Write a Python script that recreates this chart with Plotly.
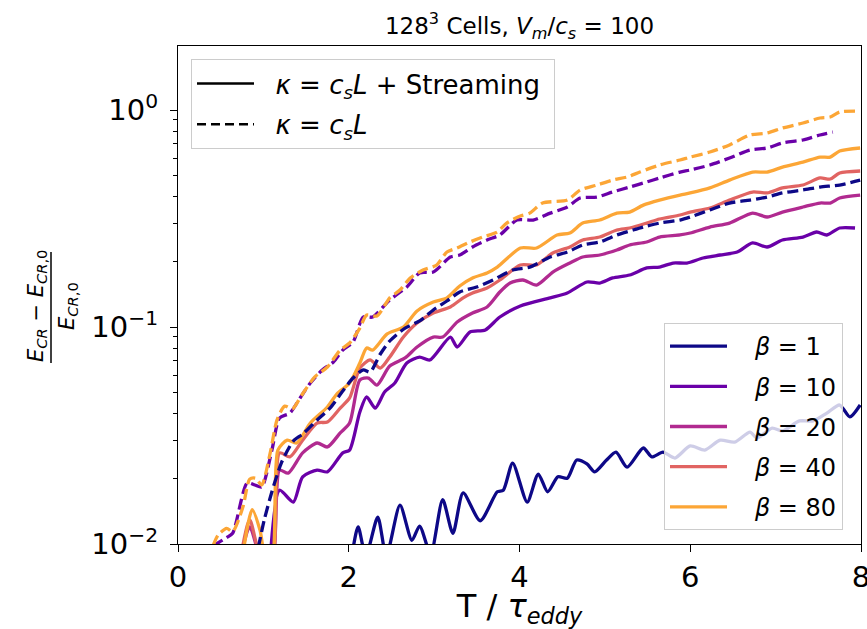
import plotly.graph_objects as go

# ---------------- data ----------------
BETAS = ["1", "10", "20", "40", "80"]
COLORS = {"1": "#0d0887", "10": "#6a00a8", "20": "#b12a90", "40": "#e16462", "80": "#fca636"}

# kappa = c_s L + Streaming (solid)
T_S1 = [2.04, 2.11, 2.20, 2.34, 2.44, 2.60, 2.74, 2.83, 2.96, 3.10, 3.22, 3.34, 3.54, 3.74, 3.81,
        3.92, 4.09, 4.22, 4.33, 4.45, 4.56, 4.67, 4.79, 4.88, 5.02, 5.13, 5.26, 5.45, 5.55, 5.68,
        5.82, 6.00, 6.17, 6.35, 6.52, 6.70, 6.78, 6.96, 7.08, 7.28, 7.44, 7.60, 7.75, 7.87, 7.99]
E_S1 = [0.0090, 0.0120, 0.0088, 0.0133, 0.0088, 0.0151, 0.0104, 0.0121, 0.0090, 0.0160, 0.0112,
        0.0172, 0.0128, 0.0174, 0.0177, 0.0236, 0.0156, 0.0210, 0.0174, 0.0204, 0.0201, 0.0244,
        0.0234, 0.0215, 0.0244, 0.0265, 0.0226, 0.0277, 0.0252, 0.0265, 0.0249, 0.0283, 0.0271,
        0.0301, 0.0295, 0.0328, 0.0308, 0.0342, 0.0332, 0.0369, 0.0369, 0.0401, 0.0437, 0.0385, 0.0437]

T_S10 = [1.08, 1.19, 1.35, 1.46, 1.63, 1.75, 1.93, 2.01, 2.13, 2.21, 2.31, 2.42, 2.54, 2.68, 2.83,
         2.95, 3.19, 3.27, 3.42, 3.60, 3.77, 4.01, 4.36, 4.56, 4.79, 4.94, 5.09, 5.29, 5.49, 5.64,
         5.80, 5.96, 6.15, 6.35, 6.55, 6.73, 6.90, 7.08, 7.32, 7.48, 7.60, 7.75, 7.93]
E_S10 = [0.0085, 0.0177, 0.0156, 0.0204, 0.0219, 0.0215, 0.0263, 0.0271, 0.0406, 0.0476, 0.0423,
         0.0502, 0.0552, 0.0682, 0.0727, 0.0705, 0.0899, 0.0809, 0.0948, 0.0969, 0.1112, 0.1250,
         0.1362, 0.1434, 0.1612, 0.1595, 0.1683, 0.1736, 0.1871, 0.1888, 0.1972, 0.1972, 0.2080,
         0.2147, 0.2216, 0.2439, 0.2337, 0.2518, 0.2598, 0.2741, 0.2655, 0.2859, 0.2859]

T_S20 = [0.73, 0.84, 0.98, 1.10, 1.19, 1.29, 1.46, 1.63, 1.75, 1.90, 2.01, 2.13, 2.23, 2.33, 2.48,
         2.66, 2.80, 2.99, 3.10, 3.27, 3.45, 3.62, 3.77, 3.89, 4.04, 4.20, 4.39, 4.59, 4.74, 4.94,
         5.14, 5.29, 5.49, 5.64, 5.88, 6.00, 6.23, 6.46, 6.73, 6.90, 7.08, 7.32, 7.52, 7.64, 7.75, 7.99]
E_S20 = [0.0085, 0.0120, 0.0085, 0.0085, 0.0219, 0.0212, 0.0263, 0.0292, 0.0280, 0.0325, 0.0361,
         0.0570, 0.0582, 0.0540, 0.0661, 0.0720, 0.0809, 0.0899, 0.0899, 0.1054, 0.1160, 0.1237,
         0.1450, 0.1595, 0.1647, 0.1561, 0.1792, 0.1972, 0.2102, 0.2147, 0.2263, 0.2387, 0.2465,
         0.2598, 0.2655, 0.2711, 0.2889, 0.3013, 0.3348, 0.3213, 0.3385, 0.3573, 0.3727, 0.3727,
         0.3930, 0.4054]

T_S40 = [0.73, 0.84, 0.98, 1.10, 1.19, 1.31, 1.46, 1.63, 1.75, 1.90, 2.01, 2.13, 2.25, 2.37, 2.48,
         2.64, 2.80, 2.99, 3.19, 3.34, 3.45, 3.62, 3.77, 4.01, 4.20, 4.39, 4.59, 4.74, 4.94, 5.14,
         5.29, 5.49, 5.64, 5.88, 6.00, 6.23, 6.46, 6.73, 6.90, 7.08, 7.32, 7.52, 7.64, 7.75, 7.99]
E_S40 = [0.0085, 0.0129, 0.0085, 0.0085, 0.0263, 0.0252, 0.0301, 0.0361, 0.0365, 0.0423, 0.0471,
         0.0647, 0.0705, 0.0647, 0.0727, 0.0899, 0.1043, 0.1160, 0.1237, 0.1362, 0.1434, 0.1512,
         0.1647, 0.1931, 0.1931, 0.2193, 0.2337, 0.2518, 0.2598, 0.2799, 0.2859, 0.3013, 0.3146,
         0.3282, 0.3385, 0.3535, 0.3845, 0.4189, 0.4149, 0.4377, 0.4511, 0.4861, 0.4808, 0.5126, 0.5236]

T_S80 = [0.75, 0.87, 0.96, 1.03, 1.10, 1.17, 1.28, 1.39, 1.55, 1.75, 1.86, 2.01, 2.13, 2.21, 2.28,
         2.45, 2.64, 2.80, 2.99, 3.15, 3.30, 3.45, 3.62, 3.74, 4.01, 4.20, 4.44, 4.59, 4.74, 4.94,
         5.14, 5.29, 5.45, 5.64, 5.88, 6.00, 6.23, 6.46, 6.73, 6.90, 7.08, 7.32, 7.52, 7.64, 7.75, 7.99]
E_S80 = [0.0085, 0.0144, 0.0116, 0.0085, 0.0085, 0.0271, 0.0301, 0.0292, 0.0361, 0.0428, 0.0491,
         0.0552, 0.0682, 0.0800, 0.0783, 0.0929, 0.1000, 0.1186, 0.1303, 0.1362, 0.1546, 0.1683,
         0.1775, 0.1888, 0.2312, 0.2312, 0.2655, 0.2711, 0.3013, 0.3112, 0.3348, 0.3385, 0.3646,
         0.3845, 0.4054, 0.4149, 0.4377, 0.4753, 0.5176, 0.5176, 0.5458, 0.5754, 0.6067, 0.6067,
         0.6469, 0.6683]

# kappa = c_s L (dashed)
T_D1 = [0.94, 1.01, 1.10, 1.21, 1.35, 1.46, 1.63, 1.78, 1.93, 2.05, 2.17, 2.25, 2.37, 2.48, 2.66,
        2.83, 2.99, 3.15, 3.30, 3.50, 3.69, 3.92, 4.12, 4.36, 4.56, 4.74, 4.94, 5.14, 5.33, 5.45,
        5.64, 5.88, 6.00, 6.23, 6.46, 6.70, 6.90, 7.08, 7.32, 7.52, 7.75, 7.99]
E_D1 = [0.0096, 0.0129, 0.0174, 0.0236, 0.0298, 0.0321, 0.0373, 0.0423, 0.0507, 0.0582, 0.0634,
        0.0620, 0.0751, 0.0862, 0.0989, 0.1066, 0.1198, 0.1318, 0.1450, 0.1529, 0.1647, 0.1831,
        0.1888, 0.2102, 0.2216, 0.2387, 0.2465, 0.2655, 0.2799, 0.2889, 0.3013, 0.3112, 0.3213,
        0.3461, 0.3727, 0.3845, 0.3972, 0.4149, 0.4279, 0.4417, 0.4511, 0.4753]

T_D10 = [0.41, 0.57, 0.64, 0.81, 0.90, 0.98, 1.10, 1.19, 1.31, 1.43, 1.55, 1.69, 1.82, 1.93, 2.05,
         2.17, 2.28, 2.48, 2.68, 2.83, 2.99, 3.19, 3.30, 3.45, 3.62, 3.77, 3.97, 4.16, 4.36, 4.56,
         4.71, 4.91, 5.09, 5.29, 5.49, 5.64, 5.88, 6.00, 6.23, 6.46, 6.70, 6.90, 7.08, 7.32, 7.52, 7.67]
E_D10 = [0.0098, 0.0107, 0.0112, 0.0191, 0.0187, 0.0183, 0.0271, 0.0381, 0.0401, 0.0471, 0.0552,
         0.0634, 0.0690, 0.0783, 0.0853, 0.1112, 0.1112, 0.1332, 0.1529, 0.1775, 0.1792, 0.2102,
         0.2147, 0.2337, 0.2518, 0.2655, 0.3112, 0.3112, 0.3348, 0.3573, 0.3930, 0.3972, 0.4189,
         0.4417, 0.4658, 0.4861, 0.5176, 0.5291, 0.5579, 0.6009, 0.6542, 0.6683, 0.7046, 0.7275,
         0.7671, 0.7917]

T_D80 = [0.41, 0.47, 0.57, 0.64, 0.76, 0.84, 0.91, 0.98, 1.08, 1.16, 1.25, 1.34, 1.45, 1.60, 1.75,
         1.90, 2.01, 2.13, 2.21, 2.33, 2.48, 2.60, 2.72, 2.87, 3.03, 3.15, 3.27, 3.42, 3.57, 3.74,
         3.85, 4.01, 4.12, 4.27, 4.56, 4.71, 4.91, 5.09, 5.26, 5.41, 5.64, 5.88, 6.00, 6.23, 6.46,
         6.70, 6.90, 7.08, 7.32, 7.52, 7.64, 7.75, 7.93]
E_D80 = [0.0098, 0.0110, 0.0118, 0.0114, 0.0148, 0.0199, 0.0201, 0.0187, 0.0263, 0.0373, 0.0432,
         0.0419, 0.0486, 0.0588, 0.0654, 0.0783, 0.0844, 0.0989, 0.1136, 0.1124, 0.1362, 0.1481,
         0.1683, 0.1831, 0.1931, 0.2216, 0.2312, 0.2465, 0.2598, 0.2741, 0.3013, 0.3248, 0.3348,
         0.3727, 0.3845, 0.4279, 0.4511, 0.4753, 0.4912, 0.5176, 0.5579, 0.5883, 0.6067, 0.6405,
         0.6898, 0.7671, 0.7834, 0.8262, 0.8712, 0.9187, 0.9284, 0.9790, 0.9890]

SOLID = {"1": (T_S1, E_S1), "10": (T_S10, E_S10), "20": (T_S20, E_S20),
         "40": (T_S40, E_S40), "80": (T_S80, E_S80)}
DASHED = {"1": (T_D1, E_D1), "10": (T_D10, E_D10), "80": (T_D80, E_D80)}

Y_TICKS = [0.01, 0.1, 1]
Y_TICKTEXT = ["10<sup>\u22122</sup>", "10<sup>\u22121</sup>", "10<sup>0</sup>"]
Y_MINOR = [0.02, 0.03, 0.04, 0.05, 0.06, 0.07, 0.08, 0.09,
           0.2, 0.3, 0.4, 0.5, 0.6, 0.7, 0.8, 0.9]
X_TICKS = [0, 2, 4, 6, 8]

FONT = "DejaVu Sans"
W, H = 867, 629
L, R, T, B = 178, 6, 46, 85
PW, PH = W - L - R, H - T - B
PAD1 = "\u00a0\u00a0"          # gap between line sample and text, legend 1
PAD2 = "\u00a0\u00a0\u00a0"    # gap between line sample and text, legend 2
TAIL = "\u00a0"


def px_x(p):
    return (p - L) / PW


def px_y(p):
    return (H - B - p) / PH


fig = go.Figure()

for b in BETAS:
    t, e = SOLID[b]
    fig.add_trace(go.Scatter(
        x=t, y=e, mode="lines", name=f"{PAD2}<i>\u03b2</i> = {b}",
        line=dict(color=COLORS[b], width=3.3, shape="spline", smoothing=0.7),
        legend="legend2", legendgroup=f"b{b}", showlegend=True))

for b in ["1", "10", "80"]:
    t, e = DASHED[b]
    fig.add_trace(go.Scatter(
        x=t, y=e, mode="lines", showlegend=False,
        line=dict(color=COLORS[b], width=3.3, dash="11px,5px", shape="spline", smoothing=0.7)))

fig.add_trace(go.Scatter(x=[None], y=[None], mode="lines",
                         name=PAD1 + "<i>\u03ba</i> = <i>c</i><sub><i>s</i></sub><i>L</i> + Streaming" + TAIL,
                         line=dict(color="black", width=2.5), legend="legend", legendgroup="k1"))
fig.add_trace(go.Scatter(x=[None], y=[None], mode="lines",
                         name=PAD1 + "<i>\u03ba</i> = <i>c</i><sub><i>s</i></sub><i>L</i>",
                         line=dict(color="black", width=2.5, dash="9px,5px"), legend="legend",
                         legendgroup="k2"))

axis_common = dict(showline=True, linecolor="black", linewidth=1.3, mirror=True,
                   ticks="outside", ticklen=7, tickwidth=1.3, tickcolor="black",
                   showgrid=False, zeroline=False, ticklabeloverflow="allow", automargin=False,
                   tickfont=dict(family=FONT, size=29, color="black"))

fig.update_layout(
    width=W, height=H,
    margin=dict(l=L, r=R, t=T, b=B, autoexpand=False),
    paper_bgcolor="white", plot_bgcolor="white",
    font=dict(family=FONT, color="black"),
    title=dict(text="128<sup>3</sup> Cells, <i>V</i><sub><i>m</i></sub>/<i>c</i><sub><i>s</i></sub> = 100",
               x=px_x((L + W - R) / 2), xref="paper", xanchor="center",
               y=1 - 26 / H, yanchor="middle", font=dict(family=FONT, size=23, color="black")),
    xaxis=dict(range=[0, 8], tickvals=X_TICKS, **axis_common,
               title=dict(text="T / <i>\u03c4</i><sub><i>eddy</i></sub>",
                          font=dict(family=FONT, size=32, color="black"), standoff=6)),
    yaxis=dict(type="log", range=[-2, 0.295], tickvals=Y_TICKS, ticktext=Y_TICKTEXT,
               ticklabelstandoff=6,
               minor=dict(tickmode="array", tickvals=Y_MINOR, ticks="outside", ticklen=4,
                          tickwidth=1, tickcolor="black", showgrid=False),
               **axis_common),
    legend=dict(x=px_x(191), y=px_y(59), xanchor="left", yanchor="top",
                bgcolor="rgba(255,255,255,0.8)", bordercolor="#cccccc", borderwidth=1,
                font=dict(family=FONT, size=26, color="black"), itemwidth=57,
                traceorder="grouped", tracegroupgap=4),
    legend2=dict(x=px_x(664), y=px_y(530), xanchor="left", yanchor="bottom",
                 bgcolor="rgba(255,255,255,0.8)", bordercolor="#cccccc", borderwidth=1,
                 font=dict(family=FONT, size=24, color="black"), itemwidth=57,
                 traceorder="grouped", tracegroupgap=6),
)

# y-axis label as a stacked fraction
fig.add_annotation(text="<i>E</i><sub><i>CR</i></sub> \u2212 <i>E</i><sub><i>CR</i>,0</sub>",
                   xref="paper", yref="paper", x=px_x(37), y=px_y(306), textangle=-90,
                   xanchor="center", yanchor="middle",
                   showarrow=False, font=dict(family=FONT, size=21, color="black"))
fig.add_annotation(text="<i>E</i><sub><i>CR</i>,0</sub>",
                   xref="paper", yref="paper", x=px_x(68), y=px_y(306), textangle=-90,
                   xanchor="center", yanchor="middle",
                   showarrow=False, font=dict(family=FONT, size=21, color="black"))
fig.add_shape(type="line", xref="paper", yref="paper", x0=px_x(51), x1=px_x(51),
              y0=px_y(363), y1=px_y(252), line=dict(color="black", width=1.5))

fig.write_html("out.html", config={"displayModeBar": False},
               post_script="document.body.style.margin='0';")
